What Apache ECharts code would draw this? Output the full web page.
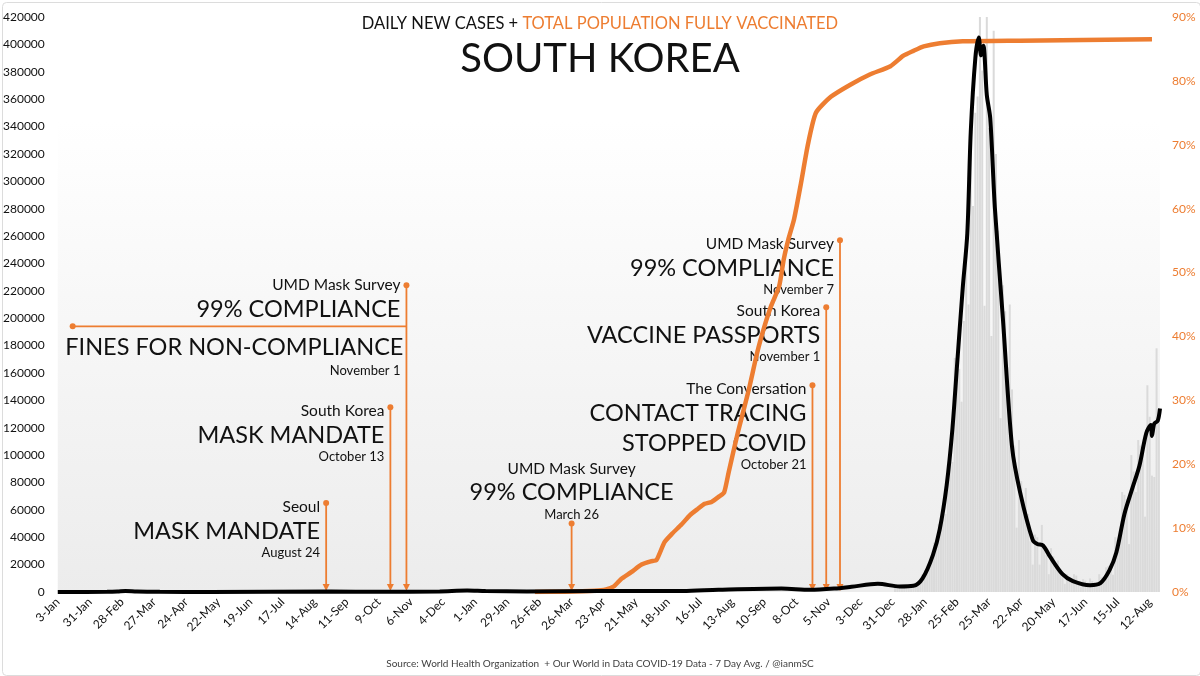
<!DOCTYPE html>
<html><head><meta charset="utf-8">
<script src="https://cdn.jsdelivr.net/npm/echarts@6/dist/echarts.min.js"></script>
<style>html,body{margin:0;padding:0;background:#fff}#c{width:1200px;height:676px}</style>
</head><body><div id="c"></div>
<script>
// ---------- DATA ----------
const START_DATE = '2020-01-03';
const END_DATE = '2022-08-21';
const tickLabels = ['3-Jan','31-Jan','28-Feb','27-Mar','24-Apr','22-May','19-Jun','17-Jul','14-Aug','11-Sep','9-Oct','6-Nov','4-Dec','1-Jan','29-Jan','26-Feb','26-Mar','23-Apr','21-May','18-Jun','16-Jul','13-Aug','10-Sep','8-Oct','5-Nov','3-Dec','31-Dec','28-Jan','25-Feb','25-Mar','22-Apr','20-May','17-Jun','15-Jul','12-Aug'];

// 7-day average of daily new cases (left axis)
const avgDates = ['2020-01-03','2020-02-15','2020-02-24','2020-03-02','2020-03-12','2020-04-01','2020-05-15','2020-08-28','2020-10-10','2020-12-01','2020-12-25','2021-01-10','2021-02-15','2021-04-20','2021-07-01','2021-08-01','2021-09-25','2021-10-20','2021-11-10','2021-11-25','2021-12-18','2022-01-06','2022-01-18','2022-01-26','2022-02-04','2022-02-10','2022-02-16','2022-02-21','2022-02-25','2022-03-02','2022-03-06','2022-03-09','2022-03-13','2022-03-16','2022-03-18','2022-03-20','2022-03-23','2022-03-26','2022-03-30','2022-04-06','2022-04-14','2022-04-21','2022-05-02','2022-05-06','2022-05-11','2022-05-17','2022-05-28','2022-06-06','2022-06-21','2022-06-30','2022-07-08','2022-07-14','2022-07-21','2022-07-28','2022-08-03','2022-08-09','2022-08-13','2022-08-14','2022-08-16','2022-08-19','2022-08-21'];
const avgCases = [0,100,300,700,300,100,50,350,100,450,1050,700,450,650,700,1600,2500,1600,2500,3800,6000,4000,4500,10000,27000,46000,78000,119000,165000,222000,262000,336000,390000,405000,392000,399000,363000,346000,281000,200000,106000,73000,38000,35000,34000,26000,13000,8000,5000,6500,16000,29000,57000,76000,92000,116000,122000,114000,123000,125000,134000];

// daily new cases (grey bars)
const dailyDates = ['2022-01-02','2022-01-04','2022-01-06','2022-01-08','2022-01-10','2022-01-12','2022-01-14','2022-01-16','2022-01-18','2022-01-20','2022-01-22','2022-01-24','2022-01-26','2022-01-28','2022-01-30','2022-02-01','2022-02-03','2022-02-05','2022-02-07','2022-02-09','2022-02-11','2022-02-13','2022-02-15','2022-02-17','2022-02-19','2022-02-21','2022-02-23','2022-02-25','2022-02-27','2022-03-01','2022-03-03','2022-03-05','2022-03-07','2022-03-09','2022-03-11','2022-03-13','2022-03-15','2022-03-17','2022-03-19','2022-03-21','2022-03-23','2022-03-25','2022-03-27','2022-03-29','2022-03-31','2022-04-02','2022-04-04','2022-04-06','2022-04-08','2022-04-10','2022-04-12','2022-04-14','2022-04-16','2022-04-18','2022-04-20','2022-04-22','2022-04-24','2022-04-26','2022-04-28','2022-04-30','2022-05-02','2022-05-04','2022-05-06','2022-05-08','2022-05-10','2022-05-12','2022-05-14','2022-05-16','2022-05-18','2022-05-20','2022-05-22','2022-05-24','2022-05-26','2022-05-28','2022-05-30','2022-06-01','2022-06-03','2022-06-05','2022-06-07','2022-06-09','2022-06-11','2022-06-13','2022-06-15','2022-06-17','2022-06-19','2022-06-21','2022-06-23','2022-06-25','2022-06-27','2022-06-29','2022-07-01','2022-07-03','2022-07-05','2022-07-07','2022-07-09','2022-07-11','2022-07-13','2022-07-15','2022-07-17','2022-07-19','2022-07-21','2022-07-23','2022-07-25','2022-07-27','2022-07-29','2022-07-31','2022-08-02','2022-08-04','2022-08-06','2022-08-08','2022-08-10','2022-08-12','2022-08-14','2022-08-16','2022-08-18','2022-08-20'];
const dailyCases = [3800,3000,4400,3500,3000,4400,4500,3900,4100,6600,7000,7500,13000,16000,17500,20000,23000,36000,35000,49500,53900,56400,57000,93000,102000,95000,171000,166000,163000,139000,198000,254000,210000,342000,282000,350000,362000,621000,381000,209000,490000,339000,187000,410000,320000,264000,127000,224000,205000,164000,210000,148000,107000,47000,111000,81000,64000,76000,57000,37000,20000,42000,40000,20000,49000,32000,27000,13000,32000,26000,19000,23000,16000,14000,6000,13000,10000,9800,13000,12000,8000,3800,9400,8400,7000,9900,8000,6800,3400,13000,10700,10000,18000,19000,20000,12600,40000,38000,40000,73000,71000,68000,35000,100000,88000,73000,111000,107000,105000,55000,151000,128000,85000,84000,178000,129000];

// share of population fully vaccinated, % (right axis)
const vaxDates = ['2021-02-22','2021-03-20','2021-04-15','2021-04-25','2021-05-02','2021-05-08','2021-05-17','2021-05-26','2021-06-03','2021-06-08','2021-06-15','2021-06-22','2021-06-30','2021-07-07','2021-07-14','2021-07-20','2021-07-26','2021-08-02','2021-08-06','2021-08-10','2021-08-18','2021-08-27','2021-09-04','2021-09-10','2021-09-16','2021-09-23','2021-09-27','2021-10-01','2021-10-06','2021-10-12','2021-10-18','2021-10-25','2021-11-07','2021-11-24','2021-12-11','2021-12-29','2022-01-09','2022-01-18','2022-01-27','2022-02-10','2022-03-02','2022-04-21','2022-08-14'];
const vaxPct = [0,0.05,0.2,0.4,0.9,2.0,3.1,4.3,4.8,5.0,7.8,9.2,10.6,12.0,13.0,13.8,14.1,15.0,15.6,18.8,25.0,31.3,37.6,41.5,44.8,47.9,52.1,55.2,58.4,64,70,75,77.5,79.4,81,82.3,83.9,84.7,85.4,85.9,86.2,86.3,86.5];

// annotations
const annArrowDate = ['2020-08-24','2020-10-19','2020-11-02','2021-03-26','2021-10-22','2021-11-03','2021-11-15'];
const annTopValue = [65000,135000,224000,50000,151000,208000,257000];
const annSource = ['Seoul','South Korea','UMD Mask Survey','UMD Mask Survey','The Conversation','South Korea','UMD Mask Survey'];
const annHeadline = [['MASK MANDATE'],['MASK MANDATE'],['99% COMPLIANCE','FINES FOR NON-COMPLIANCE'],['99% COMPLIANCE'],['CONTACT TRACING','STOPPED COVID'],['VACCINE PASSPORTS'],['99% COMPLIANCE']];
const annDateText = ['August 24','October 13','November 1','March 26','October 21','November 1','November 7'];
const annLayout = ['right','right','rule','center','right','right','right'];
const ruleStartDate = '2020-01-16';

// ---------- CHART ----------
const ORANGE = '#ED7D31';
const FONT = 'Lato';
const BIG = 23.5, SMALL = 15.5, DATE = 13;
function toDay(s) {
  const p = s.split('-').map(Number), q = START_DATE.split('-').map(Number);
  return Math.round((Date.UTC(p[0], p[1]-1, p[2]) - Date.UTC(q[0], q[1]-1, q[2])) / 86400000);
}
const zip = (d, v) => d.map((s, i) => [toDay(s), v[i]]);

function renderAnn(params, api) {
  const i = params.dataIndex;
  const top = api.coord([api.value(0), api.value(1)]);
  const bot = api.coord([api.value(0), 0]);
  const x = top[0], y = top[1], yb = bot[1];
  const ch = [];
  ch.push({type:'line', shape:{x1:x, y1:y, x2:x, y2:yb-6}, style:{stroke:ORANGE, lineWidth:1.8}});
  ch.push({type:'circle', shape:{cx:x, cy:y, r:3}, style:{fill:ORANGE}});
  ch.push({type:'polygon', shape:{points:[[x-3.5, yb-8], [x+3.5, yb-8], [x, yb-1]]}, style:{fill:ORANGE}});
  const T = (text, tx, ty, size, align) => ({type:'text', style:{text:text, x:tx, y:ty, fontSize:size, fontFamily:FONT, fill:'#111', align:align, verticalAlign:'middle', textAlign:align, textVerticalAlign:'middle'}});
  const lay = annLayout[i], heads = annHeadline[i];
  if (lay === 'center') {
    ch.push(T(annSource[i], x, y-55, SMALL, 'center'));
    ch.push(T(heads[0], x, y-31, BIG, 'center'));
    ch.push(T(annDateText[i], x, y-9, DATE, 'center'));
  } else if (lay === 'rule') {
    const tx = x - 6;
    const left = api.coord([toDay(ruleStartDate), 0])[0];
    ch.push({type:'line', shape:{x1:left, y1:y+41, x2:x, y2:y+41}, style:{stroke:ORANGE, lineWidth:1.8}});
    ch.push({type:'circle', shape:{cx:left, cy:y+41, r:3}, style:{fill:ORANGE}});
    ch.push(T(annSource[i], tx, y, SMALL, 'right'));
    ch.push(T(heads[0], tx, y+24, BIG, 'right'));
    ch.push(T(heads[1], tx+3, y+62, BIG, 'right'));
    ch.push(T(annDateText[i], tx, y+85, DATE, 'right'));
  } else {
    const tx = x - 6;
    ch.push(T(annSource[i], tx, y+4, SMALL, 'right'));
    let yy = y + 28;
    heads.forEach((h, k) => { ch.push(T(h, tx, yy, BIG, 'right')); if (k < heads.length-1) yy += 30; });
    ch.push(T(annDateText[i], tx, yy+22, DATE, 'right'));
  }
  return {type:'group', children: ch};
}

const chart = echarts.init(document.getElementById('c'), null, {renderer:'canvas'});
chart.setOption({
  animation: false,
  backgroundColor: '#fff',
  textStyle: {fontFamily: FONT},
  title: [
    {text: '{a|DAILY NEW CASES + }{b|TOTAL POPULATION FULLY VACCINATED}', left: 'center', top: 10,
     textStyle: {rich: {a: {fontSize: 16.5, fontWeight: 'normal', color: '#111', fontFamily: FONT}, b: {fontSize: 16.5, fontWeight: 'normal', color: ORANGE, fontFamily: FONT}}}},
    {text: 'SOUTH KOREA', left: 'center', top: 34, textStyle: {fontSize: 40, fontWeight: 'normal', color: '#111', fontFamily: FONT}},
    {text: 'Source: World Health Organization  + Our World in Data COVID-19 Data - 7 Day Avg. / @ianmSC', left: 'center', top: 654,
     textStyle: {fontSize: 10, fontWeight: 'normal', color: '#404040', fontFamily: FONT}}
  ],
  graphic: [{type:'rect', left: 0, top: 0, shape:{x:0.5, y:0.5, width:1198, height:673, r:4}, style:{fill:'none', stroke:'#dcdcdc', lineWidth:1}, silent:true}],
  grid: {left: 55, right: 40, top: 17, bottom: 84, show: true, borderWidth: 0,
    backgroundColor: new echarts.graphic.LinearGradient(0, 0, 0, 1, [{offset:0, color:'#ffffff'}, {offset:0.18, color:'#ffffff'}, {offset:1, color:'#ececec'}])},
  xAxis: {type: 'value', min: 0, max: toDay(END_DATE), interval: 28,
    axisLine: {show: false}, axisTick: {show: false}, splitLine: {show: false},
    axisLabel: {rotate: 45, fontSize: 12, color: '#111', margin: 8, showMaxLabel: false,
      formatter: v => (v % 28 === 0 && tickLabels[v/28] !== undefined) ? tickLabels[v/28] : ''}},
  yAxis: [
    {type: 'value', min: 0, max: 420000, interval: 20000, splitLine: {show: false}, axisLine: {show: false}, axisTick: {show: false},
     axisLabel: {fontSize: 12, color: '#111', margin: 13, formatter: v => String(v)}},
    {type: 'value', min: 0, max: 90, interval: 10, position: 'right', splitLine: {show: false}, axisLine: {show: false}, axisTick: {show: false},
     axisLabel: {fontSize: 12, color: ORANGE, margin: 12, formatter: '{value}%'}}
  ],
  series: [
    {type: 'bar', name: 'daily', data: zip(dailyDates, dailyCases), barWidth: 2, itemStyle: {color: '#dadada'}, z: 1, clip: true},
    {type: 'custom', name: 'ann', data: annArrowDate.map((d, i) => [toDay(d), annTopValue[i]]), renderItem: renderAnn, z: 2, clip: false},
    {type: 'line', name: 'vax', yAxisIndex: 1, data: zip(vaxDates, vaxPct), showSymbol: false, smooth: 0.2, lineStyle: {color: ORANGE, width: 4.5}, z: 3},
    {type: 'line', name: 'avg', data: zip(avgDates, avgCases), showSymbol: false, smooth: 0.3, lineStyle: {color: '#000', width: 4}, z: 4}
  ]
});
</script></body></html>
